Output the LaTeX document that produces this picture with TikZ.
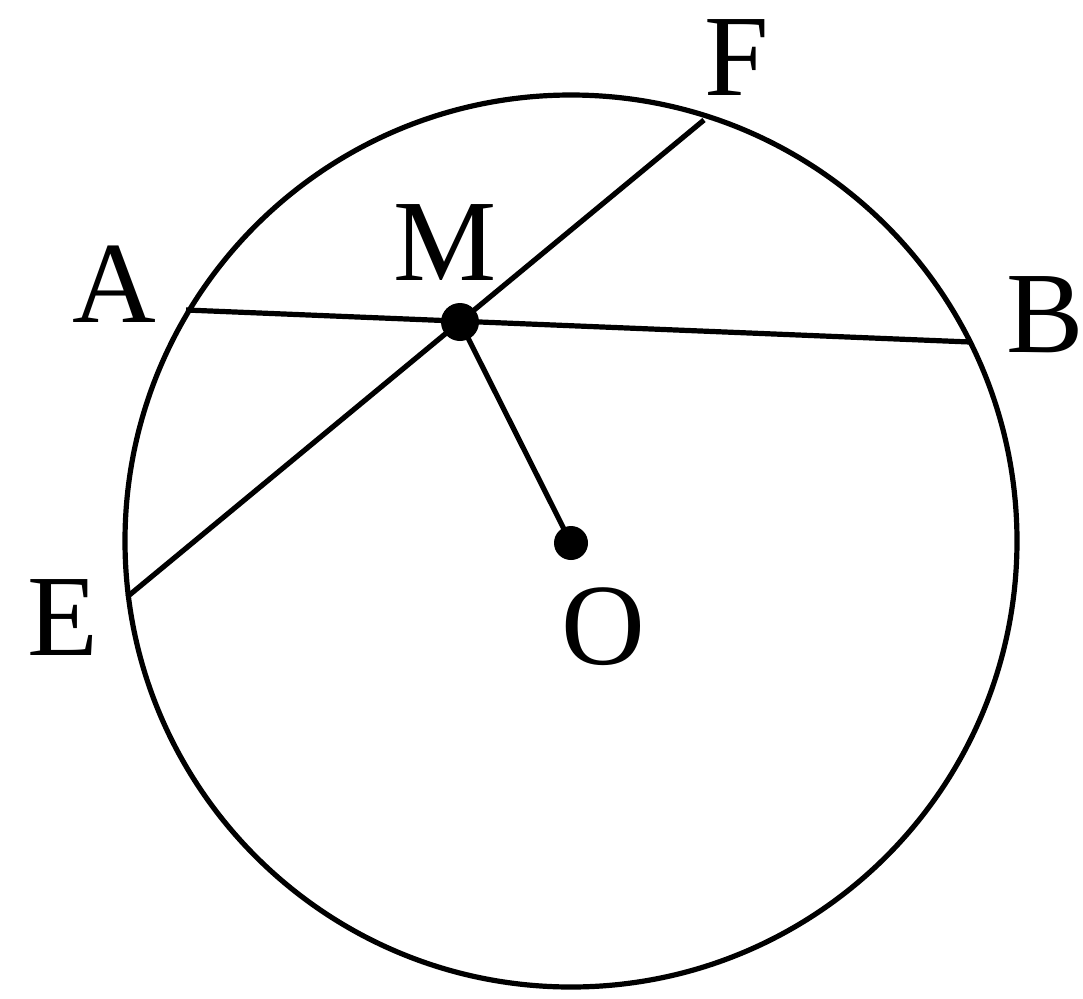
\documentclass[tikz,border=0pt]{standalone}
\usepackage{fontspec}
\setmainfont{Liberation Serif}
\begin{document}
\begin{tikzpicture}[x=0.5pt,y=-0.5pt,
  geo/.style={line width=2.6pt,black},
  lbl/.style={font=\fontsize{58}{60}\selectfont,inner sep=0pt,anchor=center},
  dotM/.style={circle,fill=black,inner sep=0pt,minimum size=19pt},
  dotO/.style={circle,fill=black,inner sep=0pt,minimum size=17pt}]
\useasboundingbox (0,0) rectangle (1083,998);
\coordinate (O) at (571,543);
\coordinate (A) at (186,310);
\coordinate (B) at (970,342);
\coordinate (F) at (704,120);
\coordinate (E) at (127,597);
\coordinate (M) at (460,322);
\draw[geo] (571,541) circle[radius=223pt];
\draw[geo] (A) -- (B);
\draw[geo] (E) -- (F);
\draw[geo] (M) -- (O);
\node[dotM] (Mdot) at (M) {};
\node[dotO] (Odot) at (O) {};
\node[lbl] (lA) at (114,284) {A};
\node[lbl] (lB) at (1045,315) {B};
\node[lbl] (lF) at (737,58) {F};
\node[lbl] (lM) at (445,243) {M};
\node[lbl] (lE) at (63,618) {E};
\node[lbl] (lO) at (603,627) {O};
\end{tikzpicture}
\end{document}
